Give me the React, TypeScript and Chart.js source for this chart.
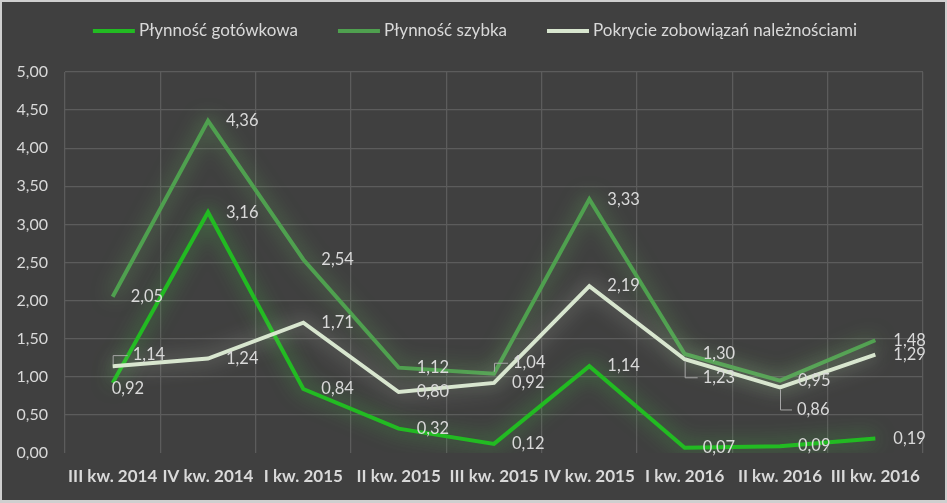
import React, { useEffect, useRef } from "react";
import { Chart, registerables } from "chart.js";

Chart.register(...registerables);

const categories = [
  "III kw. 2014", "IV kw. 2014", "I kw. 2015", "II kw. 2015", "III kw. 2015",
  "IV kw. 2015", "I kw. 2016", "II kw. 2016", "III kw. 2016",
];
const seriesNames = ["Płynność gotówkowa", "Płynność szybka", "Pokrycie zobowiązań należnościami"];
const cashLiquidity = [0.92, 3.16, 0.84, 0.32, 0.12, 1.14, 0.07, 0.09, 0.19];
const quickLiquidity = [2.05, 4.36, 2.54, 1.12, 1.04, 3.33, 1.30, 0.95, 1.48];
const receivablesCoverage = [1.14, 1.24, 1.71, 0.80, 0.92, 2.19, 1.23, 0.86, 1.29];
const yMin = 0;
const yMax = 5;
const yStep = 0.5;

const fmt = (v: number) => v.toFixed(2).replace(".", ",");

const TEXT = "#d9d9d9";
const FONT = "Lato, 'Noto Sans', sans-serif";

// label placement tweaks: [dx, dy, leader]
const labelShifts: Record<number, Record<number, [number, number, boolean]>> = {
  0: { 0: [-1, 6, false] },
  1: { 4: [19, -11, true] },
  2: { 0: [20, -11, true], 6: [18, 18, true], 7: [17, 22, true] },
};

const bgPlugin = {
  id: "bg",
  beforeDraw(chart: any) {
    const { ctx, width, height } = chart;
    ctx.save();
    ctx.fillStyle = "#cfcfcf";
    ctx.fillRect(0, 0, width, height);
    ctx.fillStyle = "#404040";
    ctx.fillRect(2, 2, 943, 498);
    ctx.restore();
  },
};

const glowPlugin = {
  id: "glow",
  beforeDatasetDraw(chart: any, args: any) {
    const ds = chart.data.datasets[args.index];
    const ctx = chart.ctx;
    ctx.save();
    ctx.shadowColor = ds.glowColor;
    ctx.shadowBlur = 20;
    ctx.shadowOffsetX = 0;
    ctx.shadowOffsetY = 0;
  },
  afterDatasetDraw(chart: any) {
    chart.ctx.restore();
  },
};

const labelPlugin = {
  id: "valueLabels",
  afterDatasetsDraw(chart: any) {
    const ctx = chart.ctx;
    ctx.save();
    ctx.font = `16.5px ${FONT}`;
    ctx.fillStyle = TEXT;
    ctx.textAlign = "left";
    ctx.textBaseline = "middle";
    chart.data.datasets.forEach((ds: any, i: number) => {
      const meta = chart.getDatasetMeta(i);
      meta.data.forEach((pt: any, j: number) => {
        const s = labelShifts[i]?.[j] ?? [18, 0, false];
        const [dx, dy, leader] = s;
        const x = pt.x, y = pt.y;
        if (leader) {
          ctx.save();
          ctx.strokeStyle = "#a6a6a6";
          ctx.lineWidth = 1;
          ctx.beginPath();
          const sign = dy > 0 ? 1 : -1;
          ctx.moveTo(x + 0.5, y + sign * 2);
          ctx.lineTo(x + 0.5, y + dy + 0.5);
          ctx.lineTo(x + dx - 5, y + dy + 0.5);
          ctx.stroke();
          ctx.restore();
        }
        ctx.fillText(fmt(ds.data[j]), x + dx, y + dy);
      });
    });
    ctx.restore();
  },
};

const legendPlugin = {
  id: "customLegend",
  afterDraw(chart: any) {
    const ctx = chart.ctx;
    ctx.save();
    ctx.font = `17px ${FONT}`;
    ctx.textBaseline = "middle";
    ctx.textAlign = "left";
    const sw = 42, gapText = 4, gapItem = 40;
    const items = chart.data.datasets.map((d: any) => ({
      label: d.label,
      color: d.borderColor,
      w: ctx.measureText(d.label).width,
    }));
    const total = items.reduce((a: number, it: any) => a + sw + gapText + it.w, 0) + gapItem * (items.length - 1);
    let x = 475 - total / 2;
    const y = 31;
    items.forEach((it: any) => {
      ctx.strokeStyle = it.color;
      ctx.lineWidth = 4;
      ctx.beginPath();
      ctx.moveTo(x, y);
      ctx.lineTo(x + sw, y);
      ctx.stroke();
      ctx.fillStyle = TEXT;
      ctx.fillText(it.label, x + sw + gapText, y);
      x += sw + gapText + it.w + gapItem;
    });
    ctx.restore();
  },
};

export default function App() {
  const ref = useRef<HTMLCanvasElement>(null);
  useEffect(() => {
    if (!ref.current) return;
    const chart = new Chart(ref.current, {
      type: "line",
      data: {
        labels: categories,
        datasets: [
          {
            label: seriesNames[0],
            data: cashLiquidity,
            borderColor: "#22bb22",
            glowColor: "rgba(70,210,70,0.75)",
            borderWidth: 4,
            pointRadius: 0,
            tension: 0,
            order: 3,
          } as any,
          {
            label: seriesNames[1],
            data: quickLiquidity,
            borderColor: "#4fa04f",
            glowColor: "rgba(110,200,100,0.7)",
            borderWidth: 4,
            pointRadius: 0,
            tension: 0,
            order: 2,
          } as any,
          {
            label: seriesNames[2],
            data: receivablesCoverage,
            borderColor: "#d8e6cf",
            glowColor: "rgba(215,225,205,0.6)",
            borderWidth: 4,
            pointRadius: 0,
            tension: 0,
            order: 1,
          } as any,
        ],
      },
      options: {
        animation: false,
        responsive: false,
        devicePixelRatio: 1,
        layout: { padding: { top: 72, right: 24, left: 0, bottom: 0 } },
        plugins: {
          legend: { display: false },
          tooltip: { enabled: false },
        },
        scales: {
          x: {
            offset: true,
            grid: {
              offset: true,
              color: "#5c5c5c",
              lineWidth: 1.25,
              drawTicks: false,
            },
            border: { display: false },
            ticks: {
              color: TEXT,
              font: { family: FONT, size: 17, weight: "bold" },
              padding: 13,
              maxRotation: 0,
              autoSkip: false,
            },
            afterFit(scale: any) {
              scale.height = 50;
            },
          },
          y: {
            min: yMin,
            max: yMax,
            grid: {
              color: (c: any) => (c.tick && c.tick.value === 0 ? "rgba(0,0,0,0)" : "#5c5c5c"),
              lineWidth: 1.25,
              drawTicks: false,
            },
            border: { display: false },
            ticks: {
              stepSize: yStep,
              color: TEXT,
              font: { family: FONT, size: 16 },
              padding: 17,
              callback: (v: any) => fmt(Number(v)),
            },
            afterFit(scale: any) {
              scale.width = 65;
            },
          },
        },
      },
      plugins: [bgPlugin, glowPlugin, labelPlugin, legendPlugin],
    });
    return () => chart.destroy();
  }, []);
  return (
    <div style={{ position: "absolute", left: 0, top: 0, width: 947, height: 503 }}>
      <canvas ref={ref} width={947} height={503} style={{ width: 947, height: 503, display: "block" }} />
    </div>
  );
}
